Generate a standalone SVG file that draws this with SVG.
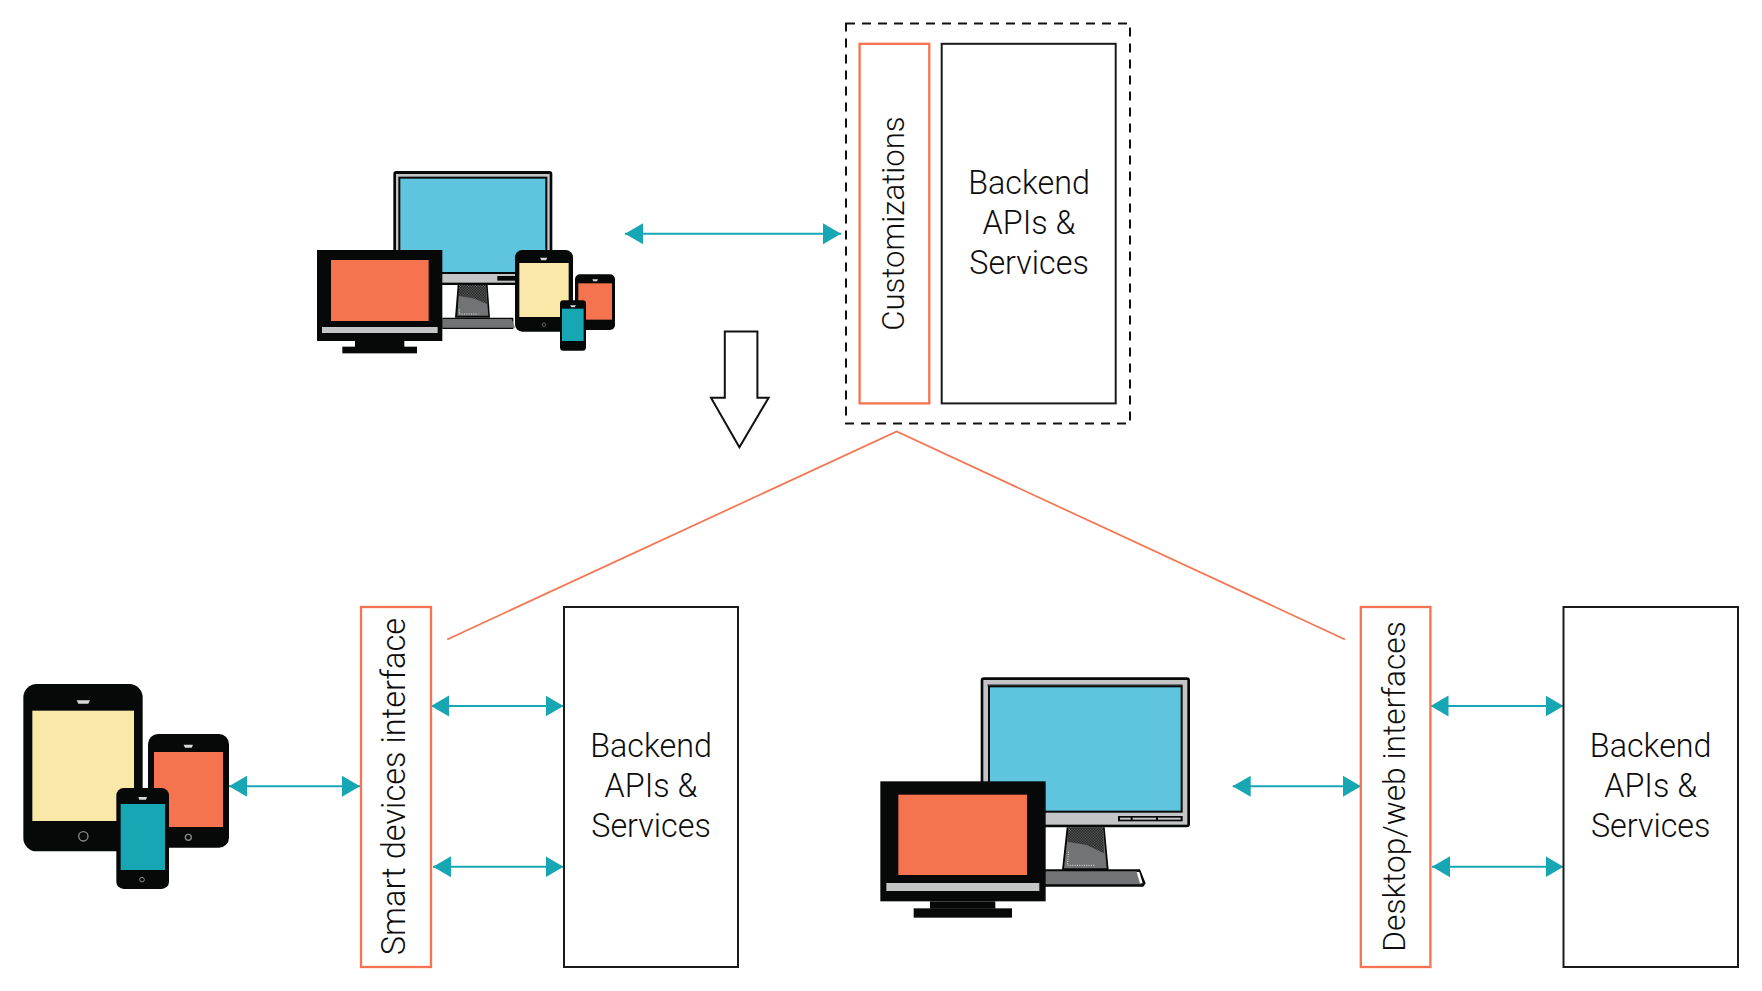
<svg xmlns="http://www.w3.org/2000/svg" width="1762" height="991" viewBox="0 0 1762 991">
<style>
.bg{fill:#fff}
.k{fill:#070808}
.g{fill:#c4c5c6}
.d{fill:#727374}
.w{fill:#fff}
.s{fill:#d8d8d8}
.b{fill:#5fc4de}
.o{fill:#f5734f}
.y{fill:#fae8a9}
.t{fill:#17a6b3}
.box{fill:#fff;stroke:#1a1a1a;stroke-width:2}
.obox{fill:#fff;stroke:#f5734f;stroke-width:2.300}
.txt{font-family:"Roboto","Liberation Sans",sans-serif;font-weight:300;font-size:32.300px;fill:#0d0d0d;text-anchor:middle}
.cn{stroke:#17a6b3;stroke-width:2;fill:none;marker-start:url(#hs);marker-end:url(#he)}
.ol{stroke:#f5734f;stroke-width:1.700;fill:none}
.ring{fill:none;stroke:#8a8b8c}
.dots{fill:none;stroke:#e4e4e4;stroke-dasharray:3 4}
</style>
<defs>
<marker id="he" markerUnits="userSpaceOnUse" markerWidth="18" markerHeight="22" refX="18" refY="11" orient="auto"><path d="M0 .5L18 11L0 21.500Z" fill="#17a6b3"/></marker>
<marker id="hs" markerUnits="userSpaceOnUse" markerWidth="18" markerHeight="22" refX="0" refY="11" orient="auto"><path d="M18 .5L0 11L18 21.500Z" fill="#17a6b3"/></marker>
<pattern id="mesh" patternUnits="userSpaceOnUse" width="8" height="8"><rect width="8" height="8" fill="#070808"/><rect x="0" y="0" width="4" height="4" fill="#727374"/><rect x="4" y="4" width="4" height="4" fill="#727374"/></pattern>
</defs>
<rect class="bg" width="1762" height="991"/>

<g id="connectors">
<path class="cn" d="M625 233.700H841"/>
<path class="cn" d="M229 786.300H360"/>
<path class="cn" d="M431 706H563.500"/>
<path class="cn" d="M433 866.700H563.500"/>
<path class="cn" d="M1232.700 786.300H1361"/>
<path class="cn" d="M1430.500 706H1563.500"/>
<path class="cn" d="M1432 866.700H1563.500"/>
<path id="fan" class="ol" d="M447.200 639.400L896.700 431.500L1345 639.400"/>
</g>

<g id="devices-top" transform="translate(300 150) scale(.33333)">
<rect class="k" x="280" y="63" width="477" height="342" rx="9"/>
<rect class="g" x="288" y="72" width="461" height="326"/>
<rect class="k" x="295" y="80" width="447" height="292"/>
<rect class="b" x="301" y="86" width="435" height="280"/>
<rect class="k" x="592" y="378" width="58" height="14"/>
<path class="k" d="M473 405H563L570 503H465Z"/>
<path class="d" d="M478 405H558L565 497H472Z"/>
<path fill="url(#mesh)" d="M478 405H558L561 462L520 445L476 438Z"/>
<path class="dots" stroke-width="3" d="M478 478V492H535"/>
<path class="k" d="M427 503H640V537H427Z"/>
<path class="d" d="M427 507H635L645 533H427Z"/>
<rect class="k" x="51" y="300" width="376" height="273"/>
<rect class="o" x="93" y="330" width="293" height="183"/>
<rect class="g" x="66" y="531" width="347" height="18"/>
<rect class="k" x="165" y="573" width="148" height="18"/>
<rect class="k" x="127" y="590" width="224" height="20"/>
<rect class="k" x="645" y="300" width="174" height="245" rx="22"/>
<rect class="y" x="658" y="339" width="148" height="162"/>
<path class="s" d="M720 323H742L738 331H724Z"/>
<circle class="ring" cx="732" cy="524" r="5" stroke-width="2"/>
<rect class="k" x="825" y="373" width="120" height="167" rx="15"/>
<rect class="o" x="835" y="400" width="101" height="109"/>
<path class="s" d="M877 388H894L891 394H880Z"/>
<rect class="k" x="780" y="451" width="78" height="151" rx="10"/>
<rect class="t" x="786" y="476" width="65" height="97"/>
<path class="s" d="M810 466H828L824 472H814Z"/>
</g>

<g id="custom-box">
<rect x="846" y="23.600" width="284" height="400" fill="none" stroke="#111" stroke-width="2" stroke-dasharray="9 7"/>
</g>
<g id="customizations">
<rect class="obox" x="859.600" y="43.800" width="69.700" height="359.600"/>
<text class="txt" style="font-size:31.200px" transform="translate(904 223.600) rotate(-90)">Customizations</text>
</g>
<g id="backend-top">
<rect class="box" x="941.700" y="43.800" width="174" height="359.600"/>
<text class="txt" x="1029" y="194">Backend</text>
<text class="txt" x="1029" y="234">APIs &amp;</text>
<text class="txt" x="1029" y="274">Services</text>
</g>
<g id="down-arrow">
<path d="M724.800 331.500H757.400V397.800H768.600L739.400 447.200L711 397.800H724.800Z" fill="#fff" stroke="#111" stroke-width="2"/>
</g>

<g id="devices-smart" transform="translate(0 670) scale(.33333)">
<rect class="k" x="70" y="42" width="358" height="502" rx="40"/>
<rect class="y" x="97" y="122" width="305" height="331"/>
<path class="s" d="M230 91H270L265 101H235Z"/>
<circle class="ring" cx="250" cy="499" r="14" stroke-width="4"/>
<rect class="k" x="444" y="192" width="243" height="341" rx="30"/>
<rect class="o" x="462" y="246" width="207" height="225"/>
<path class="s" d="M551 224H579L575 233H555Z"/>
<circle class="ring" cx="565" cy="502" r="9" stroke-width="4"/>
<rect class="k" x="349" y="354" width="158" height="303" rx="22"/>
<rect class="t" x="362" y="402" width="133" height="198"/>
<path class="s" d="M415 381H441L438 389H418Z"/>
<circle class="ring" cx="426" cy="629" r="7" stroke-width="3"/>
</g>

<g id="smart-interface">
<rect class="obox" x="361" y="607" width="70" height="360"/>
<text class="txt" style="font-size:32.600px" transform="translate(405 786.500) rotate(-90)">Smart devices interface</text>
</g>
<g id="backend-smart">
<rect class="box" x="564" y="607" width="174" height="360"/>
<text class="txt" x="651" y="757">Backend</text>
<text class="txt" x="651" y="797">APIs &amp;</text>
<text class="txt" x="651" y="837">Services</text>
</g>

<g id="devices-desktop" transform="translate(870 670) scale(.33333)">
<rect class="k" x="332" y="22" width="628" height="450" rx="10"/>
<rect class="g" x="340" y="30" width="612" height="434"/>
<rect class="d" x="352" y="42" width="586" height="8"/>
<rect class="k" x="354" y="46" width="584" height="382"/>
<rect class="b" x="360" y="52" width="572" height="370"/>
<rect class="k" x="744" y="438" width="194" height="16"/>
<rect class="g" x="750" y="443" width="32" height="6"/>
<rect class="g" x="788" y="443" width="70" height="6"/>
<rect class="g" x="864" y="443" width="68" height="6"/>
<path class="k" d="M590 472H704L716 600H576Z"/>
<path class="d" d="M596 472H699L710 595H582Z"/>
<path fill="url(#mesh)" d="M596 472H699L702 550L650 525L592 515Z"/>
<path class="dots" stroke-width="3" d="M596 545L592 586H675"/>
<path class="k" d="M525 598H810L827 640L820 650H525Z"/>
<path class="d" d="M525 604H800L815 643H525Z"/>
<path class="w" d="M800 606H808L818 640H810Z"/>
<rect class="k" x="31" y="334" width="496" height="360"/>
<rect class="o" x="85" y="374" width="386" height="241"/>
<rect class="g" x="49" y="639" width="459" height="24"/>
<rect class="k" x="180" y="694" width="196" height="22"/>
<rect class="k" x="131" y="715" width="295" height="28"/>
</g>

<g id="desktop-interface">
<rect class="obox" x="1360.800" y="607" width="69.600" height="360"/>
<text class="txt" style="font-size:31.700px" transform="translate(1405 786.500) rotate(-90)">Desktop/web interfaces</text>
</g>
<g id="backend-desktop">
<rect class="box" x="1563.500" y="607" width="174.500" height="360"/>
<text class="txt" x="1650.700" y="757">Backend</text>
<text class="txt" x="1650.700" y="797">APIs &amp;</text>
<text class="txt" x="1650.700" y="837">Services</text>
</g>
</svg>
